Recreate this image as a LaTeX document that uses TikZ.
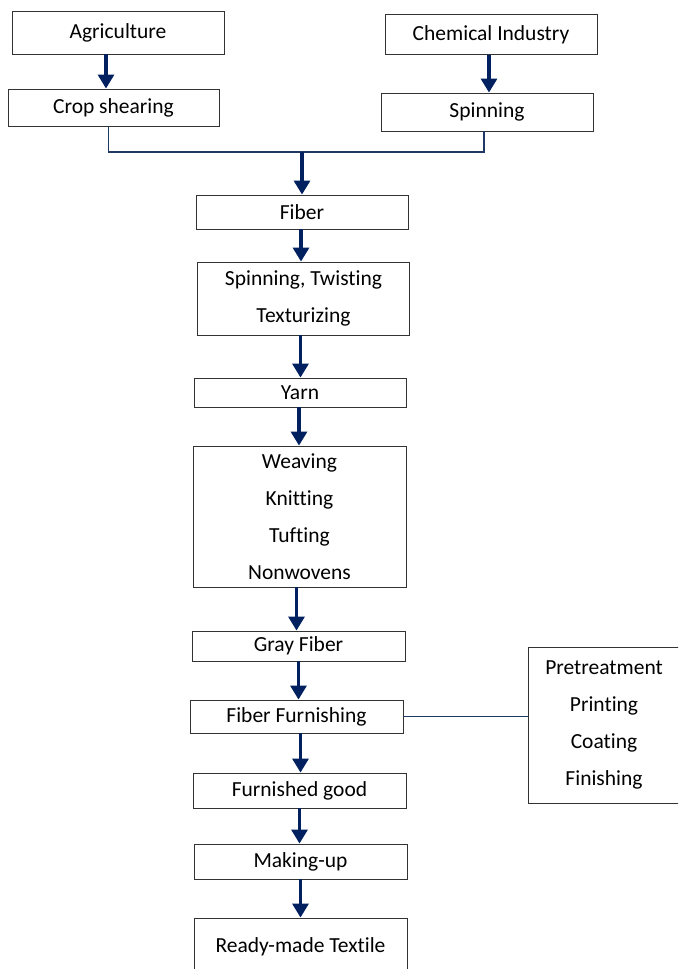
\documentclass[tikz,border=0pt]{standalone}
\usepackage{fontspec}
\setmainfont[Ligatures={NoCommon}]{Carlito}
\usetikzlibrary{arrows.meta,positioning}
\definecolor{flowblue}{RGB}{0,32,96}
\definecolor{linkblue}{RGB}{31,56,100}
\begin{document}
\begin{tikzpicture}[x=1pt, y=-1pt,
  box/.style={draw=black!80, line width=0.9pt, inner sep=0pt, align=center,
    font=\fontsize{21.5}{37}\selectfont},
  flow/.style={draw=flowblue, line width=3.2pt, -{Triangle[width=16pt,length=14pt]}},
  link/.style={draw=linkblue, line width=1.4pt}]

\path[use as bounding box, clip] (0,0) rectangle (678,969);

%nodes
\node [box, minimum width=212pt, minimum height=43pt] (agri) at (118,32.5) {Agriculture};
\node [box, minimum width=212pt, minimum height=40pt] (chem) at (491,34.5) {Chemical Industry};

\node [box, minimum width=211pt, minimum height=37pt] (crop) at (113.5,107.5) {Crop shearing};
\node [box, minimum width=212pt, minimum height=38pt] (spin) at (487,112) {Spinning};

\coordinate (joint) at (302,152);

\node [box, minimum width=212pt, minimum height=34pt] (fiber) at (302,212) {Fiber};
\node [box, minimum width=212pt, minimum height=73pt] (twist) at (303.5,298.5) {Spinning, Twisting\\Texturizing};
\node [box, minimum width=212pt, minimum height=29pt] (yarn) at (300,392.5) {Yarn};
\node [box, minimum width=213pt, minimum height=141pt] (weave) at (299.5,516.5) {Weaving\\Knitting\\Tufting\\Nonwovens};
\node [box, minimum width=213pt, minimum height=30pt] (gray) at (298.5,646) {Gray Fiber};
\node [box, minimum width=213pt, minimum height=33pt] (furn) at (296.5,716.5) {Fiber Furnishing};
\node [box, minimum width=213pt, minimum height=35pt] (good) at (299.5,790.5) {Furnished good};
\node [box, minimum width=213pt, minimum height=35pt] (make) at (300.5,861.5) {Making-up};
\node [box, minimum width=213pt, minimum height=57pt] (ready) at (300.5,946.5) {Ready-made Textile};

\node [box, minimum width=152pt, minimum height=156pt] (treat) at (604,725) {Pretreatment\\Printing\\Coating\\Finishing};

%arrows
\path [flow] ([xshift=-12pt]agri.south) -- ([xshift=-12pt]agri.south |- crop.north);
\path [flow] ([xshift=-2pt]chem.south) -- ([xshift=-2pt]chem.south |- spin.north);

\path [link] ([xshift=-5pt]crop.south) |- (joint) -| ([xshift=-3pt]spin.south);
\path [flow] (joint) -- (joint |- fiber.north);

\path [flow] ([xshift=-1pt]fiber.south) -- ([xshift=-1pt]fiber.south |- twist.north);
\path [flow] ([xshift=-3pt]twist.south) -- ([xshift=-3pt]twist.south |- yarn.north);
\path [flow] ([xshift=-1pt]yarn.south) -- ([xshift=-1pt]yarn.south |- weave.north);
\path [flow] ([xshift=-3pt]weave.south) -- ([xshift=-3pt]weave.south |- gray.north);
\path [flow] (gray.south) -- (gray.south |- furn.north);
\path [flow] ([xshift=4pt]furn.south) -- ([xshift=4pt]furn.south |- good.north);
\path [flow] (good.south) -- (good.south |- make.north);
\path [flow] (make.south) -- (make.south |- ready.north);

\path [link] (furn.east) -- (furn.east -| treat.west);

\end{tikzpicture}
\end{document}
